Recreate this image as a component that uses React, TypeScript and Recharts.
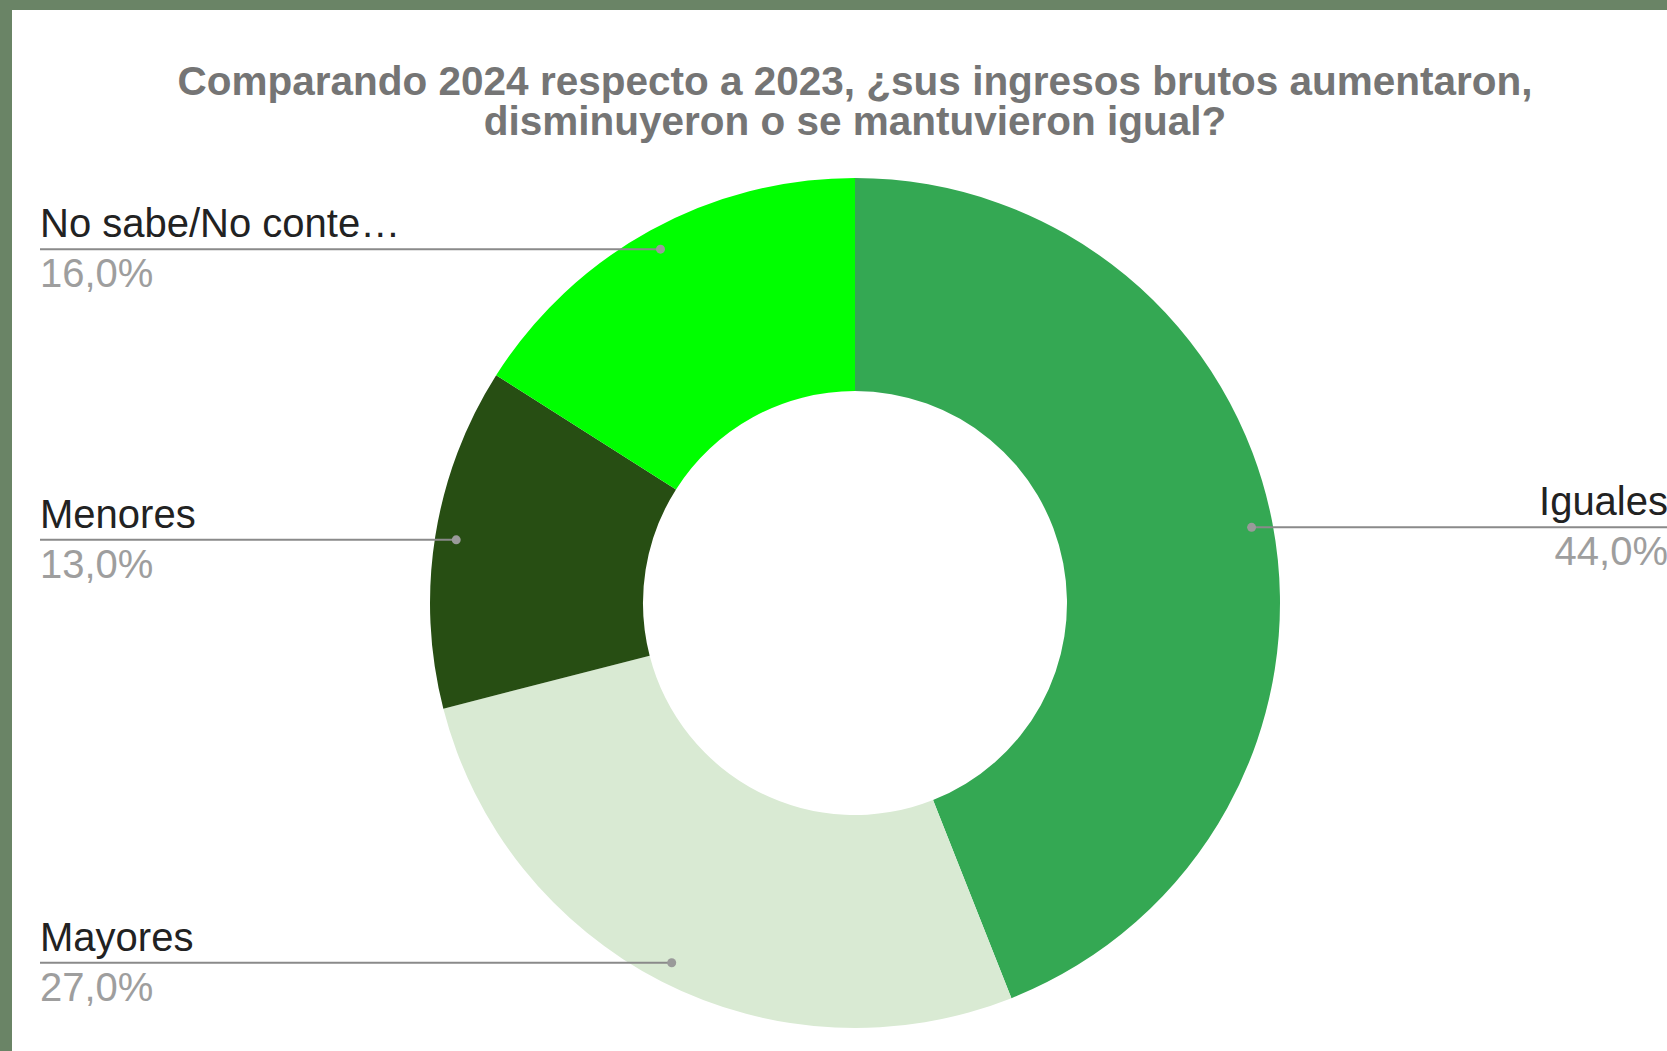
import React from 'react';
import { PieChart, Pie, Cell } from 'recharts';

const categories = ['Iguales', 'Mayores', 'Menores', 'No sabe/No conte…'];
const shares = [44, 27, 13, 16];
const sliceColors = ['#34a853', '#d9ead3', '#274e13', '#00ff00'];
const titleLines = [
  'Comparando 2024 respecto a 2023, ¿sus ingresos brutos aumentaron,',
  'disminuyeron o se mantuvieron igual?',
];

const data = categories.map((name, i) => ({ name, value: shares[i] }));

const W = 1667;
const H = 1051;
const CX = 855;
const CY = 603;
const RADIAN = Math.PI / 180;
const FONT = '"Liberation Sans", Arial, sans-serif';

const fmt = (v: number) => v.toFixed(1).replace('.', ',') + '%';

const renderLabel = (props: any) => {
  const { cx, cy, midAngle, outerRadius, name, value } = props;
  const r = outerRadius * 0.95;
  const x = cx + r * Math.cos(-midAngle * RADIAN);
  const y = cy + r * Math.sin(-midAngle * RADIAN);
  const right = x > cx;
  const edge = right ? 1668 : 40;
  return (
    <g>
      <line x1={edge} y1={y} x2={x} y2={y} stroke="#8a8a8a" strokeWidth={2} />
      <circle cx={x} cy={y} r={4.5} fill="#9a9a9a" />
      <text
        x={edge}
        y={y - 12}
        textAnchor={right ? 'end' : 'start'}
        fontFamily={FONT}
        fontSize={40}
        fill="#222222"
      >
        {name}
      </text>
      <text
        x={edge}
        y={y + 38}
        textAnchor={right ? 'end' : 'start'}
        fontFamily={FONT}
        fontSize={40}
        fill="#9e9e9e"
      >
        {fmt(value)}
      </text>
    </g>
  );
};

export default function App() {
  return (
    <div style={{ position: 'absolute', left: 0, top: 0, width: W, height: H, background: '#6a8466', overflow: 'hidden' }}>
      <div style={{ position: 'absolute', left: 12, top: 10, width: W - 12, height: H - 10, background: '#ffffff' }} />
      <div
        style={{
          position: 'absolute',
          left: CX - 800,
          top: 61,
          width: 1600,
          textAlign: 'center',
          fontFamily: FONT,
          fontWeight: 'bold',
          fontSize: 40.5,
          lineHeight: '40px',
          color: '#757575',
        }}
      >
        {titleLines.map((t) => (
          <div key={t}>{t}</div>
        ))}
      </div>
      <div style={{ position: 'absolute', left: 0, top: 0 }}>
        <PieChart width={W} height={H} margin={{ top: 0, right: 0, bottom: 0, left: 0 }}>
          <Pie
            data={data}
            dataKey="value"
            nameKey="name"
            cx={CX}
            cy={CY}
            outerRadius={425}
            innerRadius={212}
            startAngle={90}
            endAngle={-270}
            stroke="none"
            label={renderLabel}
            labelLine={false}
            isAnimationActive={false}
          >
            {data.map((d, i) => (
              <Cell key={d.name} fill={sliceColors[i]} />
            ))}
          </Pie>
        </PieChart>
      </div>
    </div>
  );
}
